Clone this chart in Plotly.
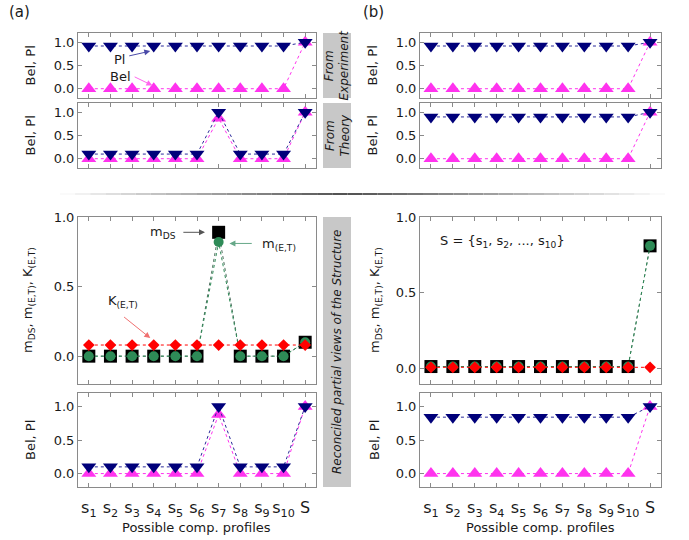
import plotly.graph_objects as go

W, H = 689, 540

# ---------------- data ----------------
profiles = ["s<sub>1</sub>", "s<sub>2</sub>", "s<sub>3</sub>", "s<sub>4</sub>", "s<sub>5</sub>",
            "s<sub>6</sub>", "s<sub>7</sub>", "s<sub>8</sub>", "s<sub>9</sub>", "s<sub>10</sub>", "S"]
xpos = list(range(1, 12))

# (a) From Experiment
a_exp_pl = [0.92] * 10 + [1.0]
a_exp_bel = [0.0] * 10 + [1.0]
# (a) From Theory
a_th_pl = [0.1, 0.1, 0.1, 0.1, 0.1, 0.1, 1.0, 0.1, 0.1, 0.1, 1.0]
a_th_bel = [0.0, 0.0, 0.0, 0.0, 0.0, 0.0, 0.87, 0.0, 0.0, 0.0, 1.0]
# (a) Reconciled
a_mds = [0.0, 0.0, 0.0, 0.0, 0.0, 0.0, 0.89, 0.0, 0.0, 0.0, 0.1]
a_m = [0.0, 0.0, 0.0, 0.0, 0.0, 0.0, 0.82, 0.0, 0.0, 0.0, 0.1]
a_k = [0.08] * 11
a_rec_pl = [0.1, 0.1, 0.1, 0.1, 0.1, 0.1, 1.0, 0.1, 0.1, 0.1, 1.0]
a_rec_bel = [0.0, 0.0, 0.0, 0.0, 0.0, 0.0, 0.88, 0.0, 0.0, 0.0, 1.0]

# (b) From Experiment
b_exp_pl = [0.92] * 10 + [1.0]
b_exp_bel = [0.0] * 10 + [1.0]
# (b) From Theory
b_th_pl = [0.9] * 10 + [1.0]
b_th_bel = [0.0] * 10 + [1.0]
# (b) Reconciled
b_mds = [0.015] * 10 + [0.81]
b_m = [0.015] * 10 + [0.81]
b_k = [0.01] * 11
b_rec_pl = [0.84] * 10 + [1.0]
b_rec_bel = [0.0] * 10 + [1.0]

# ---------------- styling ----------------
NAVY = "#00007a"
MAG = "#ff33ee"
GREEN = "#2e8b57"
RED = "#ff0000"
FONT = "DejaVu Sans"
TXT = "#1a1a1a"
AX = "#8a8a8a"


def fx(px):
    return px / W


def fy(py):
    return 1 - py / H


# panel boxes in pixels: (x0, x1, y0, y1)
panels = [
    (78, 316, 33, 98),    # 1 a exp
    (78, 316, 103, 168),  # 2 a th
    (78, 316, 217, 384),  # 3 a rec m
    (78, 316, 393, 487),  # 4 a rec bel
    (420, 661, 33, 98),   # 5 b exp
    (420, 661, 103, 168), # 6 b th
    (420, 661, 217, 384), # 7 b rec m
    (420, 661, 393, 487), # 8 b rec bel
]
yranges = [[-0.2, 1.2], [-0.2, 1.2], [-0.2, 1.0], [-0.2, 1.2],
           [-0.2, 1.2], [-0.2, 1.2], [-0.1, 1.0], [-0.2, 1.2]]

fig = go.Figure()
layout = dict(width=W, height=H, margin=dict(l=0, r=0, t=0, b=0, autoexpand=False),
              plot_bgcolor="white", paper_bgcolor="white", showlegend=False,
              font=dict(family=FONT, color=TXT, size=13))

for i, (x0, x1, y0, y1) in enumerate(panels, start=1):
    bottom = i in (4, 8)
    layout["xaxis%d" % i] = dict(
        domain=[fx(x0), fx(x1)], anchor="y%d" % i, range=[0.5, 11.5],
        tickvals=xpos, ticktext=profiles, showticklabels=bottom,
        tickfont=dict(size=16, color=TXT, family=FONT), ticklabelstandoff=6,
        ticks="inside", ticklen=4, tickcolor=AX, mirror="allticks",
        showline=True, linecolor=AX, linewidth=1, showgrid=False, zeroline=False)
    layout["yaxis%d" % i] = dict(
        domain=[fy(y1), fy(y0)], anchor="x%d" % i, range=yranges[i - 1],
        tickvals=[0, 0.5, 1.0], ticktext=["0.0", "0.5", "1.0"],
        tickfont=dict(size=13, color=TXT, family=FONT),
        ticks="inside", ticklen=4, tickcolor=AX, mirror="allticks",
        showline=True, linecolor=AX, linewidth=1, showgrid=False, zeroline=False)


def belpl(i, bel, pl):
    xa, ya = "x%d" % i, "y%d" % i
    fig.add_trace(go.Scatter(x=xpos, y=bel, xaxis=xa, yaxis=ya, mode="lines+markers",
                             line=dict(color=MAG, width=1, dash="dot"),
                             marker=dict(symbol="triangle-up", size=13, color=MAG)))
    fig.add_trace(go.Scatter(x=xpos, y=pl, xaxis=xa, yaxis=ya, mode="lines+markers",
                             line=dict(color="#2a2a9a", width=1, dash="dot"),
                             marker=dict(symbol="triangle-down", size=13, color=NAVY)))


def masses(i, mds, m, k):
    xa, ya = "x%d" % i, "y%d" % i
    fig.add_trace(go.Scatter(x=xpos, y=mds, xaxis=xa, yaxis=ya, mode="lines+markers",
                             line=dict(color="#4f6f5f", width=1, dash="dot"),
                             marker=dict(symbol="square", size=13, color="black")))
    fig.add_trace(go.Scatter(x=xpos, y=m, xaxis=xa, yaxis=ya, mode="lines+markers",
                             line=dict(color=GREEN, width=1, dash="dot"),
                             marker=dict(symbol="circle", size=10, color=GREEN)))
    fig.add_trace(go.Scatter(x=xpos, y=k, xaxis=xa, yaxis=ya, mode="lines+markers",
                             line=dict(color=RED, width=1, dash="dot"),
                             marker=dict(symbol="diamond", size=9, color=RED)))


belpl(1, a_exp_bel, a_exp_pl)
belpl(2, a_th_bel, a_th_pl)
masses(3, a_mds, a_m, a_k)
belpl(4, a_rec_bel, a_rec_pl)
belpl(5, b_exp_bel, b_exp_pl)
belpl(6, b_th_bel, b_th_pl)
masses(7, b_mds, b_m, b_k)
belpl(8, b_rec_bel, b_rec_pl)

shapes = []
annotations = []


def ptext(xp, yp, text, size=13, angle=0):
    annotations.append(dict(xref="paper", yref="paper", x=fx(xp), y=fy(yp), text=text,
                            textangle=angle, showarrow=False, xanchor="center", yanchor="middle",
                            font=dict(size=size, color=TXT)))


# gray side boxes
for (y0, y1) in [(33, 98), (103, 168), (217, 487)]:
    shapes.append(dict(type="rect", xref="paper", yref="paper", x0=fx(323), x1=fx(351),
                       y0=fy(y1), y1=fy(y0), fillcolor="#c8c8c8", line=dict(width=0), layer="below"))
ptext(337, 65.5, "<i>From<br>Experiment</i>", 12, -90)
ptext(337, 135.5, "<i>From<br>Theory</i>", 12, -90)
ptext(337, 352, "<i>Reconciled partial views of the Structure</i>", 12, -90)

# gradient separator line
nseg = 40
xa0, xmid, xa1 = 60, 345, 665
for s in range(nseg):
    p0 = xa0 + (xa1 - xa0) * s / nseg
    p1 = xa0 + (xa1 - xa0) * (s + 1) / nseg
    c = (p0 + p1) / 2
    t = (c - xa0) / (xmid - xa0) if c < xmid else (xa1 - c) / (xa1 - xmid)
    t = max(0.0, min(1.0, t))
    g = int(255 - (255 - 80) * t)
    shapes.append(dict(type="line", xref="paper", yref="paper", x0=fx(p0), x1=fx(p1),
                       y0=fy(194), y1=fy(194), line=dict(color="rgb(%d,%d,%d)" % (g, g, g), width=2)))

# panel labels
ptext(19, 12, "(a)", 15)
ptext(373, 12, "(b)", 15)

# axis titles
for xp, yp in [(30, 65.5), (30, 135.5), (30, 440), (372, 65.5), (372, 135.5), (374, 440)]:
    ptext(xp, yp, "Bel, Pl", 13, -90)
for xp in (28, 375):
    ptext(xp, 300, "m<sub>DS</sub>, m<sub>(E,T)</sub>, K<sub>(E,T)</sub>", 13, -90)
for xp in (197, 540):
    ptext(xp, 527, "Possible comp. profiles", 13)


def arrow(i, tx, ty, hx, hy, color):
    annotations.append(dict(xref="x%d" % i, yref="y%d" % i, axref="x%d" % i, ayref="y%d" % i,
                            x=hx, y=hy, ax=tx, ay=ty, text="", showarrow=True,
                            arrowhead=2, arrowsize=1.2, arrowwidth=1, arrowcolor=color))


def label(i, x, y, text, size=13):
    annotations.append(dict(xref="x%d" % i, yref="y%d" % i, x=x, y=y, text=text,
                            xanchor="center", yanchor="middle",
                            showarrow=False, font=dict(size=size, color=TXT)))


# panel a1 labels
label(1, 2.4, 0.62, "Pl")
arrow(1, 2.8, 0.70, 3.84, 0.81, "#4a4aa8")
label(1, 2.45, 0.27, "Bel")
arrow(1, 3.05, 0.27, 3.94, 0.07, "#ff66ee")

# panel a3 labels
label(3, 4.45, 0.89, "m<sub>DS</sub>")
arrow(3, 5.3, 0.89, 6.37, 0.89, "#555555")
label(3, 9.8, 0.80, "m<sub>(E,T)</sub>")
arrow(3, 8.6, 0.81, 7.5, 0.81, "#66a888")
label(3, 2.6, 0.39, "K<sub>(E,T)</sub>")
arrow(3, 2.56, 0.29, 3.84, 0.13, "#f07070")

# panel b3 label
label(7, 4.25, 0.84, "S = {s<sub>1</sub>, s<sub>2</sub>, ..., s<sub>10</sub>}")

layout["shapes"] = shapes
layout["annotations"] = annotations
fig.update_layout(**layout)
fig.write_html("out.html", config={"displayModeBar": False},
               post_script="document.body.style.margin='0';document.body.style.padding='0';")
